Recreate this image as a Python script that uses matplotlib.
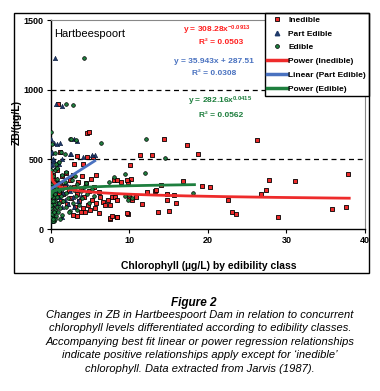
import numpy as np
import matplotlib
matplotlib.use("Agg")
import matplotlib.pyplot as plt
from matplotlib.lines import Line2D
from matplotlib.patches import Rectangle

plt.rcParams['font.family'] = ['Liberation Sans', 'DejaVu Sans']
plt.rcParams['mathtext.fontset'] = 'custom'
plt.rcParams['mathtext.rm'] = 'Liberation Sans:bold'
plt.rcParams['mathtext.it'] = 'Liberation Sans:bold'
plt.rcParams['mathtext.bf'] = 'Liberation Sans:bold'
plt.rcParams['mathtext.default'] = 'rm'

# inedible chlorophyll (x) vs ZB (y)
inedible_x = [4.6, 4.9, 14.4, 26.2, 17.4, 18.8, 11.4, 12.9, 3.4, 4.6, 5.4, 3.0, 4.1, 10.1,
              37.9, 31.1, 27.8, 16.8, 19.2, 20.3, 27.4, 26.8, 13.3, 14.1, 15.7, 14.8, 14.8,
              15.9, 22.6, 23.1, 23.6, 13.6, 15.1, 28.9, 35.8, 37.6, 9.8, 8.5, 7.5, 3.4, 3.9,
              0.9, 1.2,
              0.3, 0.5, 0.7, 0.8, 1.0, 1.2, 1.3, 1.5, 1.6, 1.8, 2.0, 2.1, 2.3, 2.5, 2.6, 2.8,
              3.0, 3.1, 3.3, 3.5, 3.6, 3.8, 4.0, 4.1, 4.3, 4.5, 4.7, 4.9, 5.1, 5.3, 5.5, 5.6,
              5.8, 6.1, 6.3, 5.8, 6.1, 7.3, 6.7, 7.8, 8.2, 8.4, 6.9, 7.5, 7.5, 7.8, 8.4, 9.7,
              10.0, 10.9, 10.3, 11.6, 12.2, 10.2, 9.9, 9.0, 13.4, 8.0, 4.4, 2.9, 5.0, 8.4, 9.7]
inedible_y = [688, 693, 645, 640, 600, 540, 528, 528, 521, 518, 515, 469, 469, 462,
              395, 348, 352, 343, 307, 302, 283, 250, 276, 319, 241, 250, 207,
              188, 205, 119, 105, 121, 128, 83, 145, 155, 109, 83, 71, 93, 121,
              900, 552,
              390, 350, 300, 420, 260, 330, 200, 380, 250, 310, 400, 180, 280, 350, 220, 390,
              300, 160, 250, 340, 200, 290, 380, 150, 230, 330, 170, 270, 360, 210, 300, 150,
              386, 266, 231, 184, 112, 207, 195, 231, 231, 207, 171, 171, 76, 93, 83, 112,
              231, 231, 207, 179, 266, 362, 338, 338, 283, 350, 125, 100, 140, 350, 350]

# part edible
part_x = [0.55, 0.7, 1.5, 0.1, 0.4, 0.8, 1.2, 3.4, 3.0, 0.0, 0.2, 2.5, 2.6, 4.1, 5.6, 5.3,
          1.4, 1.4, 0.4, 0.9, 1.1,
          0.1, 0.2, 0.3, 0.4, 0.5, 0.6, 0.7, 0.8, 0.9, 1.0, 1.2, 1.4, 1.6, 1.8, 2.0, 2.2,
          2.5, 2.8, 3.0, 3.5, 3.8, 0.1, 0.3, 0.6,
          0.05, 0.2, 0.3, 0.15]
part_y = [1229, 895, 880, 648, 616, 607, 616, 631, 645, 545, 552, 540, 535, 514, 528, 533,
          505, 83, 490, 480, 470,
          400, 250, 170, 320, 210, 130, 280, 360, 190, 230, 300, 160, 260, 210, 330, 180,
          270, 230, 160, 200, 240, 60, 90, 440,
          460, 470, 500, 380]

# edible
edible_x = [4.3, 2.0, 2.9, 0.0, 12.1, 6.4, 2.4, 2.6, 3.2, 0.2, 14.5, 1.3, 1.8, 0.6, 0.7,
            1.0, 12.0, 9.5, 18.1, 9.5, 10.0, 8.1, 7.4, 3.1, 4.5, 9.9, 10.4,
            0.05, 0.1, 0.1, 0.15, 0.2, 0.2, 0.25, 0.3, 0.3, 0.35, 0.4, 0.4, 0.45, 0.5, 0.5,
            0.55, 0.6, 0.65, 0.7, 0.75, 0.8, 0.85, 0.9, 1.0, 1.0, 1.1, 1.2, 1.3, 1.4, 1.5,
            1.5, 1.6, 1.8, 1.9, 2.0, 2.2, 2.4, 2.5, 2.7, 2.9, 3.0, 3.2, 3.4, 3.6, 3.8, 4.0,
            4.3, 4.6, 4.9, 5.2, 5.5, 0.05, 0.1, 0.2, 0.6, 1.2, 0.8, 2.0, 2.3, 3.3,
            0.0, 0.05, 0.1, 0.15, 0.2, 0.3, 0.35, 0.45, 0.0, 0.1, 0.25]
edible_y = [1229, 900, 888, 695, 645, 616, 645, 643, 636, 612, 512, 552, 540, 545, 470,
            480, 400, 398, 255, 240, 245, 370, 340, 380, 330, 207, 219,
            80, 120, 200, 260, 320, 160, 380, 100, 230, 290, 60, 180, 340, 140, 250,
            420, 200, 90, 300, 160, 230, 360, 120, 270, 190, 330, 150, 240, 390, 100,
            290, 200, 340, 160, 260, 220, 300, 130, 350, 190, 280, 240, 320, 170, 270, 220,
            300, 250, 190, 290, 240, 300, 420, 60, 70, 70, 440, 410, 120, 140,
            150, 240, 280, 110, 350, 60, 200, 120, 400, 170, 70]

# trendlines shown on the chart: coefficient, exponent/slope, x range
pow_inedible = (308.28, -0.0913)
lin_part = (35.943, 287.51)
pow_edible = (282.16, 0.0415)
range_inedible = (0.05, 38.0)
range_part = (0.0, 5.6)
range_edible = (0.01, 18.3)

red = '#ee2b2b'
blue = '#4a72c0'
green = '#1e7f3e'
navy = '#1f3a6a'

fig = plt.figure(figsize=(3.8, 3.91), dpi=100)
ax = fig.add_axes([0.1334, 0.4143, 0.827, 0.5345])

ax.scatter(inedible_x, inedible_y, marker='s', s=12, c=red, edgecolors='black',
           linewidths=0.6, zorder=3)
ax.scatter(part_x, part_y, marker='^', s=10, c=navy, edgecolors='#0a1a3a',
           linewidths=0.4, zorder=4)
ax.scatter(edible_x, edible_y, marker='o', s=7, c=green, edgecolors='black',
           linewidths=0.5, zorder=5)

xi = np.linspace(*range_inedible, 300)
ax.plot(xi, pow_inedible[0] * xi ** pow_inedible[1], color=red, lw=2, zorder=6)
xp = np.linspace(*range_part, 50)
ax.plot(xp, lin_part[0] * xp + lin_part[1], color=blue, lw=2, zorder=6)
xe = np.linspace(*range_edible, 300)
ax.plot(xe, pow_edible[0] * xe ** pow_edible[1], color=green, lw=2, zorder=6)

for yv in [500, 1000]:
    ax.axhline(yv, color='black', lw=0.9, ls=(0, (4, 3)), zorder=2)

ax.set_xlim(0, 40)
ax.set_ylim(0, 1500)
ax.set_xticks([0, 10, 20, 30, 40])
ax.set_yticks([0, 500, 1000, 1500])
ax.tick_params(length=3, width=0.8, labelsize=6.5, pad=2)
for lab in ax.get_xticklabels() + ax.get_yticklabels():
    lab.set_fontweight('bold')
for s in ['top', 'right']:
    ax.spines[s].set_color('#888888')
    ax.spines[s].set_linewidth(0.8)
for s in ['left', 'bottom']:
    ax.spines[s].set_linewidth(1)

ax.set_xlabel('Chlorophyll (µg/L) by edibility class', fontsize=7.5, fontweight='bold')
ax.xaxis.set_label_coords(0.503, -0.153)
ax.set_ylabel('ZB/(µg/L)', fontsize=7.5, fontweight='bold')
ax.yaxis.set_label_coords(-0.091, 0.51)

ax.text(0.4, 1400, 'Hartbeespoort', fontsize=8, va='center', ha='left')
ax.text(21.2, 1428, 'y = 308.28x$^{-0.0913}$', color='#ff2020', fontsize=6,
        fontweight='bold', ha='center', va='center')
ax.text(21.7, 1336, 'R² = 0.0503', color='#ff2020', fontsize=6, fontweight='bold',
        ha='center', va='center')
ax.text(20.8, 1200, 'y = 35.943x + 287.51', color=blue, fontsize=6, fontweight='bold',
        ha='center', va='center')
ax.text(20.8, 1114, 'R² = 0.0308', color=blue, fontsize=6, fontweight='bold',
        ha='center', va='center')
ax.text(21.6, 916, 'y = 282.16x$^{0.0415}$', color=green, fontsize=6, fontweight='bold',
        ha='center', va='center')
ax.text(21.7, 814, 'R² = 0.0562', color=green, fontsize=6, fontweight='bold',
        ha='center', va='center')

handles = [
    Line2D([], [], ls='none', marker='s', ms=3.2, mfc=red, mec='black', mew=0.6),
    Line2D([], [], ls='none', marker='^', ms=3.2, mfc=navy, mec=navy),
    Line2D([], [], ls='none', marker='o', ms=2.8, mfc=green, mec='black', mew=0.5),
    Line2D([], [], color=red, lw=2.5),
    Line2D([], [], color=blue, lw=2.5),
    Line2D([], [], color=green, lw=2.5),
]
labels = ['Inedible', 'Part Edible', 'Edible', 'Power (Inedible)',
          'Linear (Part Edible)', 'Power (Edible)']
leg = ax.legend(handles, labels, loc='upper right', bbox_to_anchor=(0.971, 0.9668),
                bbox_transform=fig.transFigure, borderaxespad=0, fancybox=False,
                framealpha=1, edgecolor='black', prop={'size': 6, 'weight': 'bold'},
                handlelength=2.4, handletextpad=0.1, borderpad=0.35, labelspacing=0.72)
leg.get_frame().set_linewidth(1)
leg.set_zorder(10)

fig.patches.append(Rectangle((0.0368, 0.3018), 0.9342, 0.665, transform=fig.transFigure,
                             fill=False, edgecolor='black', lw=1))

fig.text(0.51, 0.2258, 'Figure 2', fontsize=8.5, fontweight='bold', style='italic',
         ha='center', va='center')
caption = ['Changes in ZB in Hartbeespoort Dam in relation to concurrent',
           'chlorophyll levels differentiated according to edibility classes.',
           'Accompanying best fit linear or power regression relationships',
           'indicate positive relationships apply except for \u2018inedible\u2019',
           'chlorophyll. Data extracted from Jarvis (1987).']
for i, line in enumerate(caption):
    fig.text(0.526, (391 - 315 - i * 13.4) / 391, line, fontsize=8, style='italic',
             ha='center', va='center')

fig.savefig('out.png', dpi=100)
